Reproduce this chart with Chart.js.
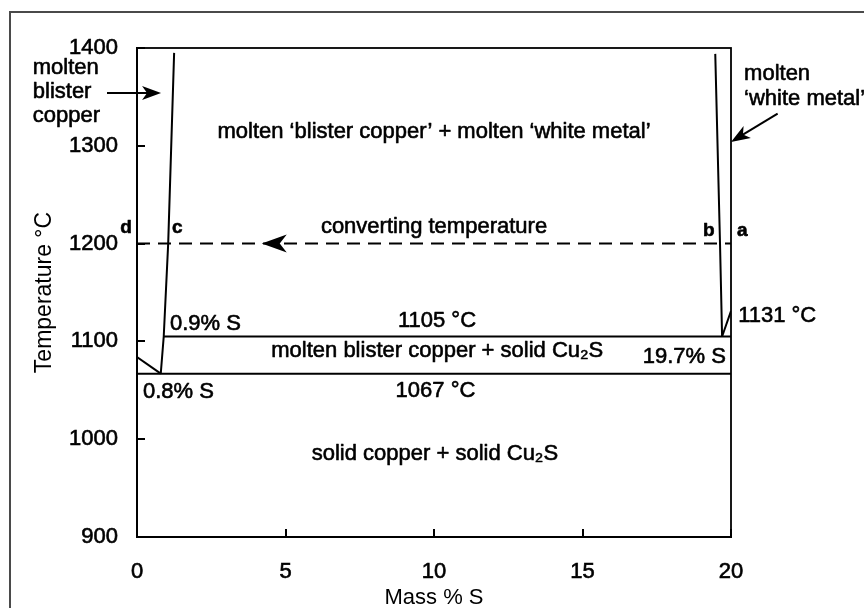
<!DOCTYPE html>
<html>
<head>
<meta charset="utf-8">
<title>Cu–S phase diagram</title>
<style>
  html, body { margin: 0; padding: 0; background: #ffffff; }
  #wrap { width: 864px; height: 608px; position: relative; }
</style>
<script src="https://cdn.jsdelivr.net/npm/chart.js@4.4.1/dist/chart.umd.min.js"></script>
</head>
<body>
<div id="wrap"><canvas id="chart" width="864" height="608"></canvas></div>
<script>
// Phase boundaries of the Cu–Cu2S system (mass % S vs temperature in °C)
const copperLiquidusS = [0, 0.8];
const copperLiquidusT = [1084, 1067];

const blisterLiquidusS = [0.8, 0.9, 1.05, 1.25];
const blisterLiquidusT = [1067, 1105, 1200, 1395];

const whiteMetalLiquidusS = [19.7, 19.63, 19.47];
const whiteMetalLiquidusT = [1105, 1200, 1394];

const whiteMetalSolidusS = [19.7, 20];
const whiteMetalSolidusT = [1105, 1131];

const monotecticS = [0.9, 20];
const monotecticT = [1105, 1105];

const eutecticS = [0, 20];
const eutecticT = [1067, 1067];

const convertingS = [0, 20];
const convertingT = [1200, 1200];

// Axis ranges and tick steps
const massRange = [0, 20];
const massStep = 5;
const tempRange = [900, 1400];
const tempStep = 100;

// Text notes placed in data coordinates (mass % S, °C)
const noteText = [
  "molten \u2018blister copper\u2019 + molten \u2018white metal\u2019",
  "converting temperature",
  "0.9% S",
  "1105 \u00b0C",
  "molten blister copper + solid Cu\u2082S",
  "19.7% S",
  "1131 \u00b0C",
  "0.8% S",
  "1067 \u00b0C",
  "solid copper + solid Cu\u2082S",
  "molten", "blister", "copper",
  "molten", "\u2018white metal\u2019",
  "a", "b", "c", "d"
];
const noteS = [10, 10, 1.11, 10.1, 4.52, 19.83, 20.24, 0.2, 10.05, 10.03,
               -3.51, -3.51, -3.51, 20.44, 20.44, 20.2, 19.45, 1.18, -0.17];
const noteT = [1307.7, 1210.4, 1111.3, 1114.4, 1084.2, 1078.1, 1119.5, 1041.8, 1042.8, 978.4,
               1373.1, 1348.6, 1324.0, 1367.0, 1341.4, 1207.5, 1207.5, 1210.4, 1210.4];
const noteAlign = ['center', 'center', 'left', 'center', 'left', 'right', 'left', 'left', 'center', 'center',
                   'left', 'left', 'left', 'left', 'left', 'left', 'right', 'left', 'right'];

// Arrows: [fromS, fromT, toS, toT]
const arrowFromS = [-1.01, 21.57];
const arrowFromT = [1354, 1333];
const arrowToS = [0.81, 20.0];
const arrowToT = [1354, 1304];
// Arrowhead sitting on the converting-temperature line
const convertArrowS = 4.2;
const convertArrowT = 1200;

const FONT = '"Liberation Sans", Arial, Helvetica, sans-serif';
const INK = '#000000';

function pts(xs, ys) { return xs.map((x, i) => ({ x: x, y: ys[i] })); }

function boundary(xs, ys, extra) {
  return Object.assign({
    data: pts(xs, ys),
    borderColor: INK,
    borderWidth: 2,
    pointRadius: 0,
    showLine: true,
    fill: false,
    tension: 0
  }, extra || {});
}

// Grey frame around the whole figure
const framePlugin = {
  id: 'frame',
  beforeDraw(chart) {
    const ctx = chart.ctx;
    ctx.save();
    ctx.fillStyle = '#ffffff';
    ctx.fillRect(0, 0, chart.width, chart.height);
    ctx.strokeStyle = '#4a4a4a';
    ctx.lineWidth = 2;
    ctx.strokeRect(10, 12, chart.width + 20, chart.height + 20);
    ctx.restore();
  }
};

function drawHead(ctx, tx, ty, ang, len, half, notch) {
  ctx.save();
  ctx.translate(tx, ty);
  ctx.rotate(ang);
  ctx.beginPath();
  ctx.moveTo(0, 0);
  ctx.lineTo(-len, -half);
  ctx.lineTo(-len + notch, 0);
  ctx.lineTo(-len, half);
  ctx.closePath();
  ctx.fill();
  ctx.restore();
}

// Plot box, notes and arrows
const notesPlugin = {
  id: 'notes',
  afterDatasetsDraw(chart) {
    const ctx = chart.ctx;
    const xs = chart.scales.x, ys = chart.scales.y;
    const a = chart.chartArea;
    ctx.save();
    ctx.strokeStyle = INK;
    ctx.lineWidth = 1.8;
    ctx.strokeRect(a.left, a.top, a.right - a.left, a.bottom - a.top);

    ctx.fillStyle = INK;
    ctx.textBaseline = 'alphabetic';
    ctx.lineWidth = 0.6;
    ctx.lineJoin = 'round';
    noteText.forEach((t, i) => {
      const small = t.length === 1;
      ctx.font = (small ? 'bold 19px ' : '22px ') + FONT;
      ctx.textAlign = noteAlign[i];
      const px = xs.getPixelForValue(noteS[i]), py = ys.getPixelForValue(noteT[i]);
      ctx.fillText(t, px, py);
      ctx.strokeText(t, px, py);
    });

    ctx.lineWidth = 2;
    arrowFromS.forEach((s, i) => {
      const x0 = xs.getPixelForValue(s), y0 = ys.getPixelForValue(arrowFromT[i]);
      const x1 = xs.getPixelForValue(arrowToS[i]), y1 = ys.getPixelForValue(arrowToT[i]);
      const ang = Math.atan2(y1 - y0, x1 - x0);
      ctx.beginPath();
      ctx.moveTo(x0, y0);
      ctx.lineTo(x1 - 12 * Math.cos(ang), y1 - 12 * Math.sin(ang));
      ctx.stroke();
      drawHead(ctx, x1, y1, ang, 19, 7, 5);
    });
    drawHead(ctx, xs.getPixelForValue(convertArrowS), ys.getPixelForValue(convertArrowT), Math.PI, 25, 9, 7);
    ctx.restore();
  }
};

const tickFont = { family: FONT, size: 22 };

new Chart(document.getElementById('chart'), {
  type: 'scatter',
  data: {
    datasets: [
      boundary(copperLiquidusS, copperLiquidusT),
      boundary(blisterLiquidusS, blisterLiquidusT),
      boundary(whiteMetalLiquidusS, whiteMetalLiquidusT),
      boundary(whiteMetalSolidusS, whiteMetalSolidusT),
      boundary(monotecticS, monotecticT),
      boundary(eutecticS, eutecticT),
      boundary(convertingS, convertingT, { borderDash: [13, 8], borderWidth: 2 })
    ]
  },
  options: {
    responsive: false,
    animation: false,
    layout: { padding: { top: 48, right: 133, bottom: 0, left: 0 } },
    plugins: { legend: { display: false }, tooltip: { enabled: false } },
    scales: {
      x: {
        type: 'linear',
        min: massRange[0], max: massRange[1],
        afterFit(scale) { scale.height = 71; },
        ticks: {
          stepSize: massStep, color: INK, padding: 30, font: tickFont,
          textStrokeColor: INK, textStrokeWidth: 0.6,
          callback: v => String(v)
        },
        grid: { drawOnChartArea: false, drawTicks: true, tickLength: -8, color: INK, lineWidth: 2 },
        border: { display: true, color: INK, width: 2 },
        title: { display: true, text: 'Mass % S', color: INK, font: { family: FONT, size: 22 }, padding: { top: 0, bottom: -3 } }
      },
      y: {
        type: 'linear',
        min: tempRange[0], max: tempRange[1],
        afterFit(scale) { scale.width = 137; },
        ticks: {
          stepSize: tempStep, color: INK, padding: 27, font: tickFont,
          textStrokeColor: INK, textStrokeWidth: 0.6,
          callback: v => String(v)
        },
        grid: { drawOnChartArea: false, drawTicks: true, tickLength: -8, color: INK, lineWidth: 2 },
        border: { display: true, color: INK, width: 2 },
        title: { display: true, text: 'Temperature \u00b0C', color: INK, font: { family: FONT, size: 23 }, padding: { top: 31, bottom: 0 } }
      }
    }
  },
  plugins: [framePlugin, notesPlugin]
});
</script>
</body>
</html>
